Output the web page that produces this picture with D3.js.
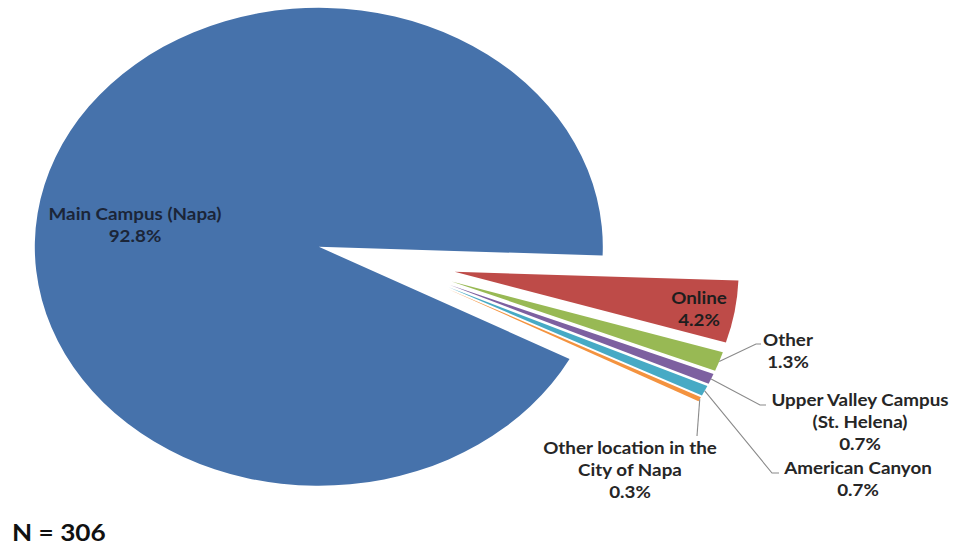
<!DOCTYPE html>
<html>
<head>
<meta charset="utf-8">
<script src="https://cdn.jsdelivr.net/npm/d3@7"></script>
<style>
  html, body { margin: 0; padding: 0; background: #ffffff; }
  svg { display: block; }
  text { font-family: Lato, "Open Sans", sans-serif; font-weight: 700; }
</style>
</head>
<body>
<svg id="chart" width="953" height="548"></svg>
<script>
// Campus / location share of respondents (percent)
const categories = [
  "Main Campus (Napa)",
  "Online",
  "Other",
  "Upper Valley Campus (St. Helena)",
  "American Canyon",
  "Other location in the City of Napa"
];
const shares = [92.8, 4.2, 1.3, 0.7, 0.7, 0.3];
const sliceColors = ["#4672ab", "#be4b48", "#98b954", "#7d60a0", "#47aac5", "#f4933f"];
// Label text, one line per entry
const labelLines = [
  ["Main Campus (Napa)", "92.8%"],
  ["Online", "4.2%"],
  ["Other", "1.3%"],
  ["Upper Valley Campus", "(St. Helena)", "0.7%"],
  ["American Canyon", "0.7%"],
  ["Other location in the", "City of Napa", "0.3%"]
];
const sampleNote = "N = 306";

const svg = d3.select("#chart");

// Pie geometry: circle drawn at radius R, squeezed vertically into an ellipse
const R = 284;
const squash = 239 / 284;
const textStretch = 1.14;         // labels are set slightly wide, like the ellipse
const explode = 0.245;            // every slice pulled out by this fraction of R
const cx = 386, cy = 262;
const startDeg = 118;

const pie = d3.pie()
  .sort(null)
  .value(d => d)
  .startAngle(startDeg * Math.PI / 180)
  .endAngle((startDeg + 360) * Math.PI / 180);

const arcs = pie(shares);
const arc = d3.arc().innerRadius(0).outerRadius(R);

const g = svg.append("g")
  .attr("transform", `translate(${cx},${cy}) scale(1,${squash})`);

function offsetOf(a) {
  const mid = (a.startAngle + a.endAngle) / 2;
  return [Math.sin(mid) * explode * R, -Math.cos(mid) * explode * R];
}

g.selectAll("path.slice")
  .data(arcs)
  .join("path")
  .attr("class", "slice")
  .attr("d", arc)
  .attr("fill", (d, i) => sliceColors[i])
  .attr("transform", d => {
    const [ox, oy] = offsetOf(d);
    return `translate(${ox},${oy})`;
  });

// Screen point on a slice's outer edge at its mid angle
function outerPoint(a, frac) {
  const mid = (a.startAngle + a.endAngle) / 2;
  const [ox, oy] = offsetOf(a);
  const x = ox + Math.sin(mid) * R * frac;
  const y = oy - Math.cos(mid) * R * frac;
  return [cx + x, cy + y * squash];
}

// Label anchors (centre of the first line) and line spacing
const lineH = 22;
const labelPos = [
  [135, 214],
  [699, 298],
  [788, 340],
  [860, 400],
  [858, 468],
  [630, 448]
];
const labelFill = ["#1b2538", "#1e1e1e", "#262626", "#262626", "#262626", "#262626"];

// Leader lines for the thin slices: slice edge -> elbow -> short horizontal
const leaders = [
  { i: 2, elbow: [756, 344], end: [761, 344] },
  { i: 3, elbow: [760, 405], end: [766, 405] },
  { i: 4, elbow: [772, 473], end: [779, 473] },
  { i: 5, elbow: [697, 436], end: null }
];

leaders.forEach(L => {
  const p0 = outerPoint(arcs[L.i], 1.0);
  const pts = [p0, L.elbow];
  if (L.end) pts.push(L.end);
  svg.append("path")
    .attr("d", d3.line()(pts))
    .attr("fill", "none")
    .attr("stroke", "#8a8a8a")
    .attr("stroke-width", 1.1);
});

const labels = svg.append("g");
labelLines.forEach((lines, i) => {
  const t = labels.append("g")
    .attr("transform", `translate(${labelPos[i][0]},${labelPos[i][1]}) scale(${textStretch},1)`)
    .append("text")
    .attr("text-anchor", "middle")
    .attr("font-size", 16.5)
    .attr("fill", labelFill[i]);
  lines.forEach((ln, k) => {
    t.append("tspan")
      .attr("x", 0)
      .attr("y", k * lineH)
      .attr("dy", "0.35em")
      .text(ln);
  });
});

svg.append("g")
  .attr("transform", `translate(12,533) scale(${textStretch},1)`)
  .append("text")
  .attr("dy", "0.35em")
  .attr("font-size", 23)
  .attr("fill", "#111")
  .text(sampleNote);
</script>
</body>
</html>
